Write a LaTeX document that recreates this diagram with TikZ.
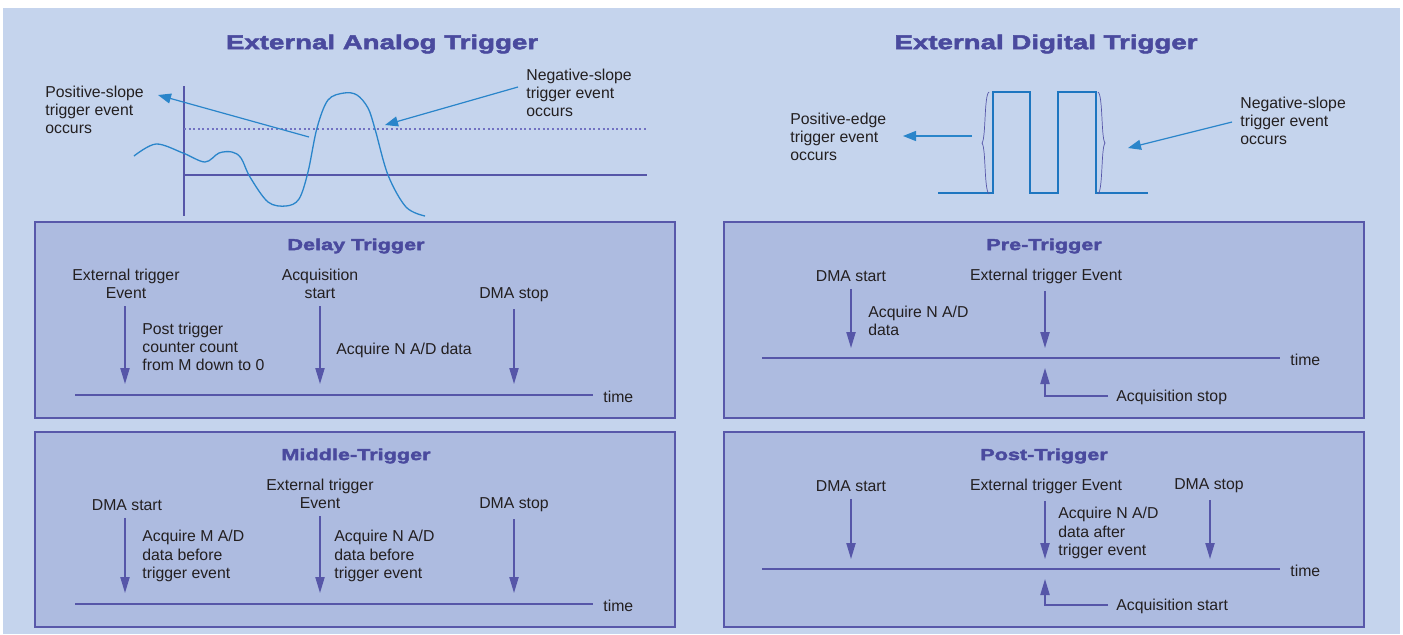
\documentclass[tikz,border=0pt]{standalone}
\usepackage{fontspec}
\setmainfont{Liberation Sans}
\newfontfamily\ttlfont[FakeStretch=1.37,BoldFeatures={FakeBold=2.5}]{Liberation Sans}
\usetikzlibrary{arrows.meta}
\definecolor{bgc}{HTML}{C5D4ED}
\definecolor{boxfill}{HTML}{ADBBE0}
\definecolor{boxc}{HTML}{5858AA}
\definecolor{ttlc}{HTML}{4A4A9E}
\definecolor{arrc}{HTML}{5656A8}
\definecolor{txtc}{HTML}{231F20}
\definecolor{bluec}{HTML}{2A85CA}
\definecolor{pulsec}{HTML}{1E76C0}
\definecolor{dotc}{HTML}{7272C2}
\begin{document}
\begin{tikzpicture}[x=0.5pt,y=-0.5pt,
  txt/.style={font=\fontsize{7.9}{9.1}\selectfont, text=txtc, inner sep=0pt, align=center},
  ltxt/.style={txt, align=left, anchor=west},
  ttl/.style={font=\ttlfont\bfseries\fontsize{10.1}{12}\selectfont, text=ttlc, inner sep=0pt},
  bttl/.style={font=\ttlfont\bfseries\fontsize{7.9}{9}\selectfont, text=ttlc, inner sep=0pt},
  panel/.style={draw=boxc, fill=boxfill, line width=1pt},
  tline/.style={draw=arrc, line width=0.75pt},
  evarrow/.style={draw=arrc, line width=0.75pt, -{Triangle[length=8pt,width=4.6pt]}},
  bluearr/.style={draw=bluec, line width=0.6pt, -{Triangle[length=6.5pt,width=5pt]}},
  axis/.style={draw=arrc, line width=0.6pt},
  curve/.style={draw=bluec, line width=0.65pt},
  pulse/.style={draw=pulsec, line width=1.2pt},
  brace/.style={draw=arrc, line width=0.35pt}
]
\useasboundingbox (0,0) rectangle (1403,634);
\fill[white] (0,0) rectangle (1403,634);
\fill[bgc] (3,8) rectangle (1400,634);

% ---------------- External Analog Trigger ----------------
\node[ttl] (atitle) at (382,44) {External Analog Trigger};
\draw[axis] (184,86) -- (184,216);
\draw[axis] (184,175) -- (647,175);
\draw[draw=dotc, line width=0.8pt, dash pattern=on 1pt off 1.3pt] (184,129) -- (648,129);
\draw[curve] plot[smooth, tension=0.55] coordinates {(134,156) (156,144) (183,153) (205,162) (219,153) (232,152) (241,158) (250,177) (268,202) (286,206) (299,199) (308,172) (317,128) (328,100) (344,93) (357,95) (368,108) (375,129) (388,175) (406,207) (425,216)};
\node[ltxt] (possl) at (45,110) {Positive-slope\\trigger event\\occurs};
\node[ltxt] (negsl) at (526,93) {Negative-slope\\trigger event\\occurs};
\coordinate (posfrom) at (309,137);
\coordinate (posto) at (158,95);
\coordinate (negfrom) at (518,87);
\coordinate (negto) at (385,125);
\draw[bluearr] (posfrom) -- (posto);
\draw[bluearr] (negfrom) -- (negto);

% ---------------- External Digital Trigger ----------------
\node[ttl] (dtitle) at (1046,44) {External Digital Trigger};
\draw[pulse] (938,193) -- (993,193) -- (993,92) -- (1030,92) -- (1030,193) -- (1058,193) -- (1058,92) -- (1096,92) -- (1096,193) -- (1148,193);
\draw[brace] (989,92) .. controls (984,95) and (986,138) .. (982,143) .. controls (986,148) and (984,190) .. (989,194);
\draw[brace] (1098,92) .. controls (1103,95) and (1101,138) .. (1105,143) .. controls (1101,148) and (1103,190) .. (1098,194);
\node[ltxt] (posedge) at (790,137) {Positive-edge\\trigger event\\occurs};
\node[ltxt] (dnegsl) at (1240,121) {Negative-slope\\trigger event\\occurs};
\coordinate (pefrom) at (972,136);
\coordinate (peto) at (903,136);
\coordinate (dnfrom) at (1232,122);
\coordinate (dnto) at (1128,148);
\draw[bluearr] (pefrom) -- (peto);
\draw[bluearr] (dnfrom) -- (dnto);

% ---------------- Delay Trigger ----------------
\draw[panel] (35,222) rectangle (675,418);
\node[bttl] (delayt) at (356,246) {Delay Trigger};
\node[txt] (d1) at (126,284) {External trigger\\Event};
\node[txt] (d2) at (320,284) {Acquisition\\start};
\node[txt] (d3) at (514,295) {DMA stop};
\node[ltxt] (d4) at (142,347) {Post trigger\\counter count\\from M down to 0};
\node[ltxt] (d5) at (336,350) {Acquire N A/D data};
\coordinate (dl0) at (75,395);
\coordinate (dl1) at (593,395);
\node[txt, anchor=west] (dtime) at (603,397) {time};
\draw[tline] (dl0) -- (dl1);
\coordinate (da1) at (125,384);
\coordinate (da2) at (320,384);
\coordinate (da3) at (514,384);
\draw[evarrow] (d1.south -| da1) ++(0,7) -- (da1);
\draw[evarrow] (d2.south -| da2) ++(0,7) -- (da2);
\draw[evarrow] (d3.south -| da3) ++(0,7) -- (da3);

% ---------------- Middle-Trigger ----------------
\draw[panel] (35,432) rectangle (675,627);
\node[bttl] (midt) at (356,456) {Middle-Trigger};
\node[txt] (m1) at (127,505) {DMA start};
\node[txt] (m2) at (320,494) {External trigger\\Event};
\node[txt] (m3) at (514,505) {DMA stop};
\node[ltxt] (m4) at (142,556) {Acquire M A/D\\data before\\trigger event};
\node[ltxt] (m5) at (334,556) {Acquire N A/D\\data before\\trigger event};
\coordinate (ml0) at (75,604);
\coordinate (ml1) at (593,604);
\node[txt, anchor=west] (mtime) at (603,606) {time};
\draw[tline] (ml0) -- (ml1);
\coordinate (ma1) at (125,593);
\coordinate (ma2) at (320,593);
\coordinate (ma3) at (514,593);
\draw[evarrow] (m1.south -| ma1) ++(0,7) -- (ma1);
\draw[evarrow] (m2.south -| ma2) ++(0,7) -- (ma2);
\draw[evarrow] (m3.south -| ma3) ++(0,7) -- (ma3);

% ---------------- Pre-Trigger ----------------
\draw[panel] (724,222) rectangle (1364,418);
\node[bttl] (pret) at (1044,246) {Pre-Trigger};
\node[txt] (p1) at (851,276) {DMA start};
\node[txt] (p2) at (1046,276) {External trigger Event};
\node[ltxt] (p3) at (868,321) {Acquire N A/D\\data};
\coordinate (pl0) at (762,358);
\coordinate (pl1) at (1280,358);
\node[txt, anchor=west] (ptime) at (1290,360) {time};
\draw[tline] (pl0) -- (pl1);
\coordinate (pa1) at (851,348);
\coordinate (pa2) at (1045,348);
\draw[evarrow] (p1.south -| pa1) ++(0,7) -- (pa1);
\draw[evarrow] (p2.south -| pa2) ++(0,7) -- (pa2);
\node[txt, anchor=west] (p4) at (1116,397) {Acquisition stop};
\coordinate (pcorner) at (1045,396);
\coordinate (pup) at (1045,368);
\draw[evarrow] (p4.west) ++(-8,-1) -- (pcorner) -- (pup);

% ---------------- Post-Trigger ----------------
\draw[panel] (724,432) rectangle (1364,627);
\node[bttl] (postt) at (1044,456) {Post-Trigger};
\node[txt] (q1) at (851,486) {DMA start};
\node[txt] (q2) at (1046,486) {External trigger Event};
\node[txt] (q3) at (1209,486) {DMA stop};
\node[ltxt] (q4) at (1058,533) {Acquire N A/D\\data after\\trigger event};
\coordinate (ql0) at (762,569);
\coordinate (ql1) at (1280,569);
\node[txt, anchor=west] (qtime) at (1290,571) {time};
\draw[tline] (ql0) -- (ql1);
\coordinate (qa1) at (851,559);
\coordinate (qa2) at (1045,559);
\coordinate (qa3) at (1210,559);
\draw[evarrow] (q1.south -| qa1) ++(0,7) -- (qa1);
\draw[evarrow] (q2.south -| qa2) ++(0,7) -- (qa2);
\draw[evarrow] (q3.south -| qa3) ++(0,7) -- (qa3);
\node[txt, anchor=west] (q5) at (1116,606) {Acquisition start};
\coordinate (qcorner) at (1045,605);
\coordinate (qup) at (1045,579);
\draw[evarrow] (q5.west) ++(-8,-1) -- (qcorner) -- (qup);
\end{tikzpicture}
\end{document}
